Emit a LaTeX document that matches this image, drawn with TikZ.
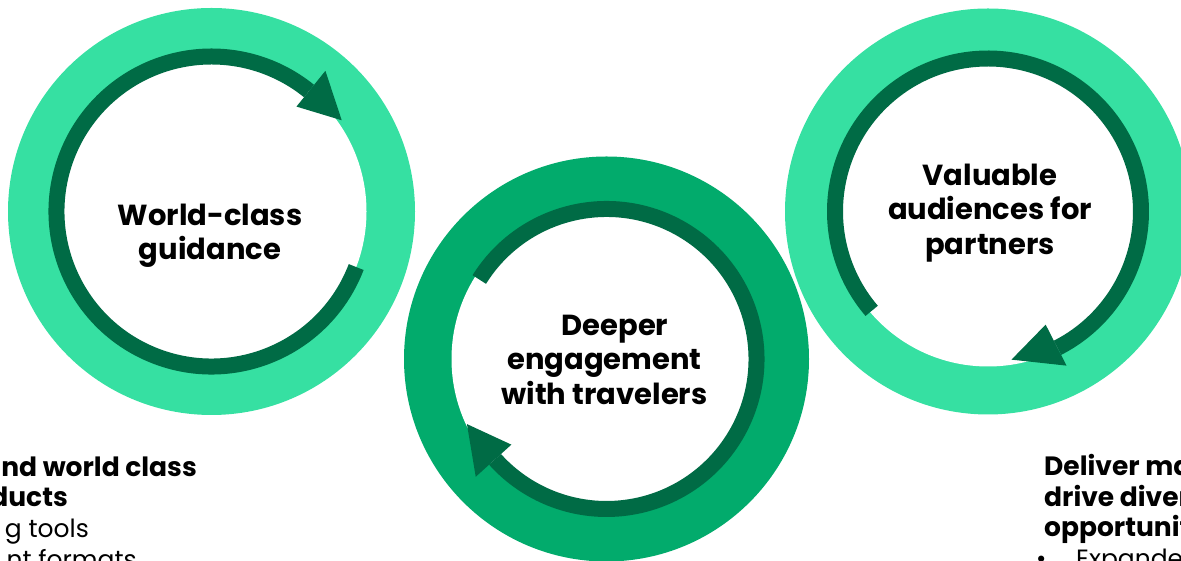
\documentclass[tikz,border=0pt]{standalone}
\usepackage{fontspec}
\setmainfont{Poppins}
\definecolor{ringlight}{HTML}{36E0A2}
\definecolor{ringmid}{HTML}{02AB6C}
\definecolor{arcdark}{HTML}{006B45}
\begin{document}
\begin{tikzpicture}[x=1pt,y=1pt,
  cyclearc/.style={draw=arcdark,line width=16pt},
  arrowtip/.style={fill=arcdark},
  circtext/.style={align=center,inner sep=0pt,text=black,font=\bfseries\fontsize{29}{34.5}\selectfont},
  boldtext/.style={inner sep=0pt,text=black,font=\bfseries\fontsize{26.5}{31}\selectfont},
  regtext/.style={inner sep=0pt,text=black,font=\fontsize{25}{31}\selectfont}]
\useasboundingbox (0,0) rectangle (1181,561);
\clip (0,0) rectangle (1181,561);
\coordinate (L) at (211.5,349.5);
\coordinate (M) at (606.5,202);
\coordinate (R) at (988,349.5);
% left cycle
\fill[ringlight] (L) circle (203.5);
\fill[white] (L) circle (155);
\draw[cyclearc,shift={(L)}] (-21:155) arc[start angle=-21,end angle=-309,radius=155];
\fill[arrowtip,shift={(L)}] (51:135) -- (51:181) -- (35:159) -- cycle;
% middle cycle
\fill[ringmid] (M) circle (202.5);
\fill[white] (M) circle (155);
\draw[cyclearc,shift={(M)}] (148:150) arc[start angle=148,end angle=-138,radius=150];
\fill[arrowtip,shift={(M)}] (222:128) -- (222:176) -- (205:154) -- cycle;
% right cycle
\fill[ringlight] (R) circle (203);
\fill[white] (R) circle (155);
\draw[cyclearc,shift={(R)}] (220.5:153) arc[start angle=220.5,end angle=-63,radius=153];
\fill[arrowtip,shift={(R)}] (-63:127) -- (-63:173) -- (-81:150) -- cycle;
% circle texts
\node[circtext] (tL) at (210,325) {World-class\\guidance};
\node[circtext] (tM) at (604.5,201.5) {\hspace*{21pt}Deeper\\engagement\\with travelers};
\node[circtext] (tR) at (990,348) {Valuable\\audiences for\\partners};
% bottom left text
\node[boldtext,anchor=base east] (b1) at (197,84) {nd world class};
\node[boldtext,anchor=base east] (b2) at (68,54) {ducts};
\node[regtext,anchor=base east] (b3) at (89,23) {g tools};
\node[regtext,anchor=base east] (b4) at (137,-8) {nt formats};
% bottom right text
\node[boldtext,anchor=base west] (c1) at (1044,85) {Deliver ma};
\node[boldtext,anchor=base west] (c2) at (1044,54) {drive diver};
\node[boldtext,anchor=base west] (c3) at (1044,24) {opportunit};
\node[regtext,anchor=base west] (c4) at (1036,-7) {•};
\node[regtext,anchor=base west] (c5) at (1076,-7) {Expande};
\end{tikzpicture}
\end{document}
